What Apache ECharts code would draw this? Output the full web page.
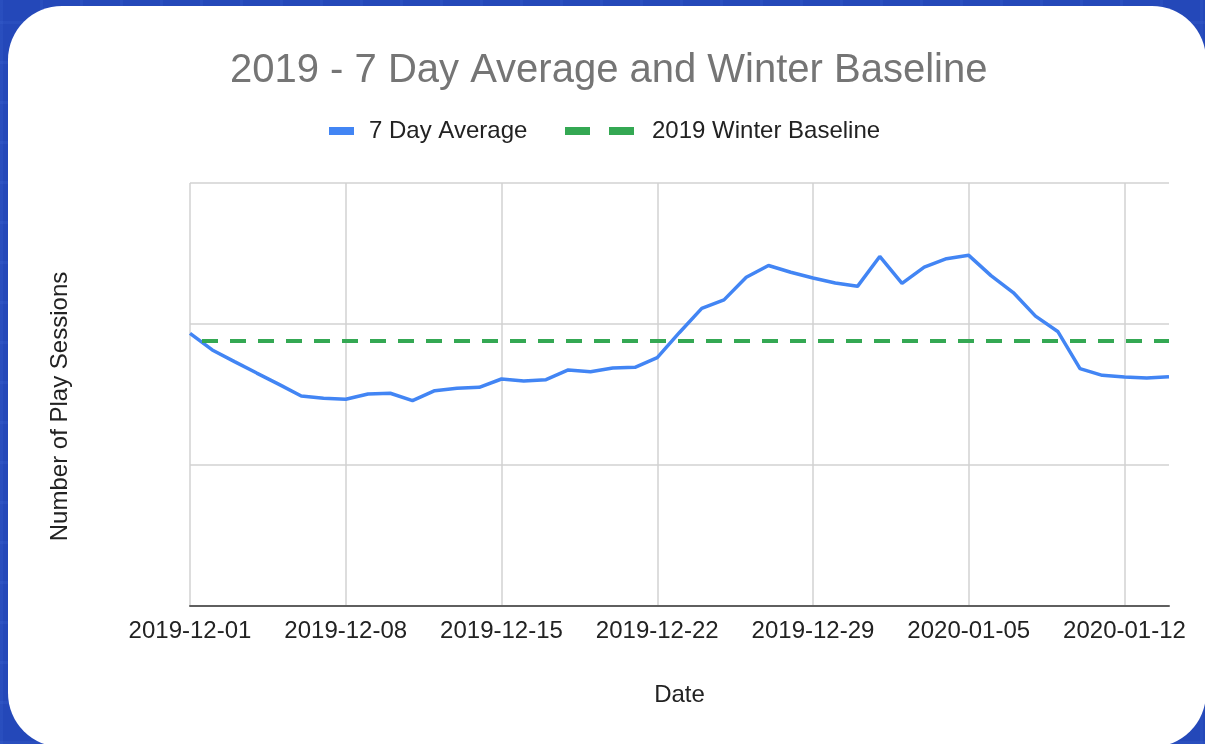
<!DOCTYPE html>
<html>
<head>
<meta charset="utf-8">
<script src="https://cdn.jsdelivr.net/npm/echarts@6/dist/echarts.min.js"></script>
<style>
    html, body {
        margin: 0;
        padding: 0;
        width: 1205px;
        height: 744px;
        overflow: hidden;
        background-color: #2448b9;
        background-image:
            repeating-linear-gradient(0deg, rgba(110, 160, 255, 0.07) 0px, rgba(110, 160, 255, 0.07) 3px, transparent 3px, transparent 40px),
            repeating-linear-gradient(90deg, rgba(110, 160, 255, 0.07) 0px, rgba(110, 160, 255, 0.07) 3px, transparent 3px, transparent 40px);
    }
    #card {
        position: absolute;
        left: 8px;
        top: 6px;
        width: 1198px;
        height: 741px;
        border-radius: 54px;
        background: #ffffff;
    }
    #chart {
        position: absolute;
        left: 0;
        top: 0;
        width: 1205px;
        height: 744px;
    }
</style>
</head>
<body>
<div id="card"></div>
<div id="chart"></div>
<script>
// daily dates on the x axis
let dates = [
    '2019-12-01', '2019-12-02', '2019-12-03', '2019-12-04', '2019-12-05', '2019-12-06', '2019-12-07',
    '2019-12-08', '2019-12-09', '2019-12-10', '2019-12-11', '2019-12-12', '2019-12-13', '2019-12-14',
    '2019-12-15', '2019-12-16', '2019-12-17', '2019-12-18', '2019-12-19', '2019-12-20', '2019-12-21',
    '2019-12-22', '2019-12-23', '2019-12-24', '2019-12-25', '2019-12-26', '2019-12-27', '2019-12-28',
    '2019-12-29', '2019-12-30', '2019-12-31', '2020-01-01', '2020-01-02', '2020-01-03', '2020-01-04',
    '2020-01-05', '2020-01-06', '2020-01-07', '2020-01-08', '2020-01-09', '2020-01-10', '2020-01-11',
    '2020-01-12', '2020-01-13', '2020-01-14'
];

// 7 day average (y axis has no labels, so values are on a relative scale)
let sevenDayAvg = [
    193.4, 181.6, 173.3, 165.2, 157.2, 148.9, 147.3,
    146.6, 150.4, 150.9, 145.6, 152.7, 154.4, 155.1,
    161.0, 159.6, 160.5, 167.4, 166.2, 168.8, 169.3,
    176.1, 194.0, 211.1, 217.1, 233.1, 241.5, 236.7,
    232.6, 229.1, 226.7, 247.9, 228.8, 240.3, 246.3,
    248.7, 234.3, 222.3, 205.6, 194.7, 168.4, 163.6,
    162.4, 161.7, 162.6
];

let winterBaseline = 187.9;

let titleText = '2019 - 7 Day Average and Winter Baseline';
let avgName = '7 Day Average';
let baseName = '2019 Winter Baseline';

let fontFamily = '"Liberation Sans", Arial, sans-serif';

let chart = echarts.init(document.getElementById('chart'), null, {renderer: 'canvas'});

chart.setOption({
    animation: false,
    backgroundColor: 'transparent',
    title: {
        text: titleText,
        left: 230,
        top: 51,
        padding: 0,
        textStyle: {
            fontFamily: fontFamily,
            fontSize: 40,
            fontWeight: 'normal',
            color: '#757575'
        }
    },
    legend: [{
        data: [{name: avgName, icon: 'rect'}],
        left: 329,
        top: 119,
        padding: 0,
        itemWidth: 25,
        itemHeight: 8,
        itemStyle: {borderWidth: 0},
        textStyle: {
            fontFamily: fontFamily,
            fontSize: 24,
            color: '#222222',
            padding: [0, 0, 0, 10]
        }
    }, {
        data: [{name: baseName, icon: 'path://M0,0h25v8h-25z M44,0h25v8h-25z'}],
        left: 565,
        top: 119,
        padding: 0,
        itemWidth: 69,
        itemHeight: 8,
        itemStyle: {borderWidth: 0},
        textStyle: {
            fontFamily: fontFamily,
            fontSize: 24,
            color: '#222222',
            padding: [0, 0, 0, 13]
        }
    }],
    grid: {
        left: 190,
        top: 183,
        width: 979,
        height: 423,
        containLabel: false
    },
    xAxis: {
        type: 'category',
        data: dates,
        boundaryGap: false,
        name: 'Date',
        nameLocation: 'middle',
        nameGap: 77,
        nameTextStyle: {
            fontFamily: fontFamily,
            fontSize: 24,
            color: '#222222'
        },
        axisLine: {
            lineStyle: {color: '#5f5f5f', width: 2}
        },
        axisTick: {show: false},
        axisLabel: {
            interval: 6,
            margin: 13,
            fontFamily: fontFamily,
            fontSize: 24,
            color: '#222222'
        },
        splitLine: {
            show: true,
            interval: 6,
            lineStyle: {color: '#d2d2d2', width: 1.5}
        }
    },
    yAxis: {
        type: 'value',
        min: 0,
        max: 300,
        interval: 100,
        name: 'Number of Play Sessions',
        nameLocation: 'middle',
        nameGap: 118,
        nameTextStyle: {
            fontFamily: fontFamily,
            fontSize: 24,
            color: '#222222',
            padding: [0, 24, 0, 0]
        },
        axisLine: {show: false},
        axisTick: {show: false},
        axisLabel: {show: false},
        splitLine: {
            lineStyle: {color: '#d2d2d2', width: 1.5}
        }
    },
    series: [{
        name: avgName,
        type: 'line',
        data: sevenDayAvg,
        showSymbol: false,
        symbol: 'none',
        color: '#4285f4',
        lineStyle: {color: '#4285f4', width: 3.5}
    }, {
        name: baseName,
        type: 'line',
        data: [[dates[0], winterBaseline], [dates[dates.length - 1], winterBaseline]],
        showSymbol: false,
        symbol: 'none',
        color: '#34a853',
        lineStyle: {
            color: '#34a853',
            width: 4,
            type: [16, 12],
            dashOffset: 16
        }
    }]
});
</script>
</body>
</html>
